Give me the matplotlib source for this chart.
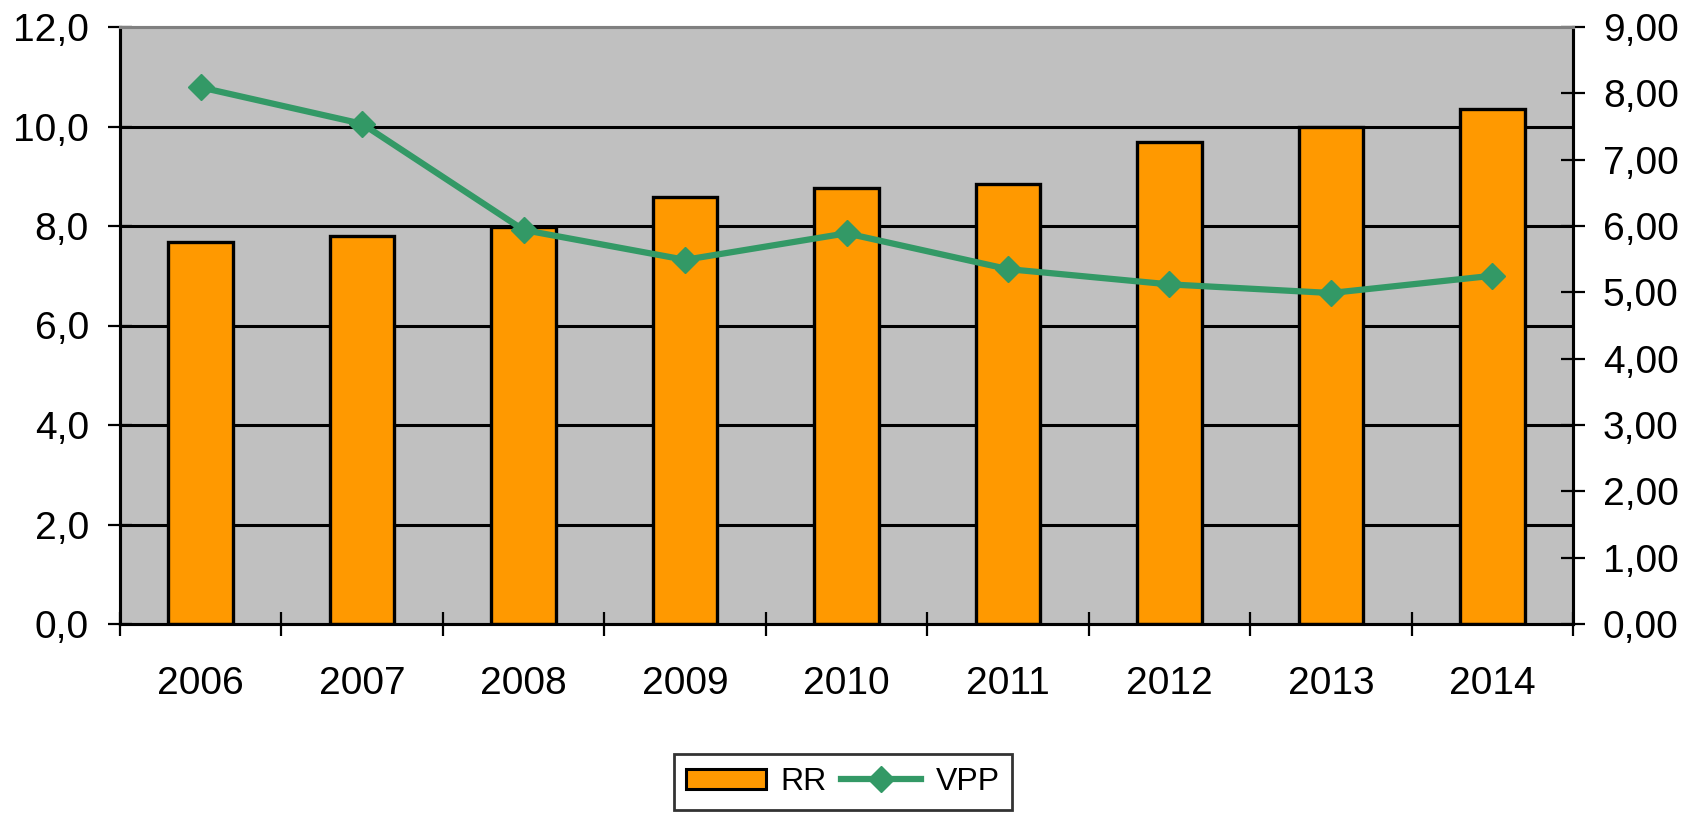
import matplotlib
matplotlib.use("Agg")
import matplotlib.pyplot as plt
import matplotlib.ticker as mticker
from matplotlib.patches import Patch
from matplotlib.lines import Line2D
import numpy as np

plt.rcParams['font.family'] = ['Liberation Sans', 'DejaVu Sans']

years = ['2006', '2007', '2008', '2009', '2010', '2011', '2012', '2013', '2014']
rr = [7.67, 7.80, 7.98, 8.59, 8.77, 8.84, 9.68, 9.98, 10.35]
vpp = [8.09, 7.54, 5.94, 5.49, 5.89, 5.35, 5.12, 4.99, 5.25]

W, H = 1685, 815
fig = plt.figure(figsize=(W/100, H/100), dpi=100)
ax = fig.add_axes([120/W, 1-624/H, (1573-120)/W, (624-27)/H])
ax.set_facecolor('#C0C0C0')
ax2 = ax.twinx()

x = np.arange(len(years))
ax.set_axisbelow(True)
for v in [2, 4, 6, 8, 10]:
    ax.axhline(v, color='black', lw=2.2, zorder=0.5)
ax.bar(x, rr, width=0.4, color='#FF9900', edgecolor='black', linewidth=2.4, zorder=2)
ax2.plot(x, vpp, color='#339966', lw=4.5, marker='D', markersize=13, zorder=3)

ax.set_xlim(-0.5, len(years)-0.5)
ax.set_ylim(0, 12)
ax2.set_ylim(0, 9)
ax.set_yticks(np.arange(0, 12.1, 2))
ax2.set_yticks(np.arange(0, 9.1, 1))
ax.yaxis.set_major_formatter(mticker.FuncFormatter(lambda v, p: f"{v:.1f}".replace('.', ',')))
ax2.yaxis.set_major_formatter(mticker.FuncFormatter(lambda v, p: f"{v:.2f}".replace('.', ',')))

ax.set_xticks(x)
ax.set_xticklabels(years)
ax.set_xticks(np.arange(-0.5, len(years)), minor=True)
ax.tick_params(axis='x', which='major', length=0, pad=30, labelsize=28)
ax.tick_params(axis='x', which='minor', direction='inout', length=17, width=1.6)
ax.tick_params(axis='y', direction='inout', length=17, width=1.6, pad=14, labelsize=28)
ax2.tick_params(axis='y', direction='inout', length=17, width=1.6, pad=13, labelsize=28)

for a in (ax, ax2):
    for s in ['left', 'right', 'bottom']:
        a.spines[s].set_color('black')
        a.spines[s].set_linewidth(2.2)
    a.spines['top'].set_color('#808080')
    a.spines['top'].set_linewidth(2.2)

handles = [Patch(facecolor='#FF9900', edgecolor='black', linewidth=2.2),
           Line2D([], [], color='#339966', lw=4.5, marker='D', markersize=13)]
leg = fig.legend(handles, ['RR', 'VPP'], loc='center', bbox_to_anchor=(843/W, 1-782/H),
                 ncol=2, fontsize=23, frameon=True, fancybox=False, handlelength=2.5,
                 handleheight=0.6, handletextpad=0.45, columnspacing=0.45,
                 borderpad=0.4, borderaxespad=0)
leg.get_frame().set_edgecolor('black')
leg.get_frame().set_linewidth(2)

fig.savefig('out.png', dpi=100, facecolor='white')
